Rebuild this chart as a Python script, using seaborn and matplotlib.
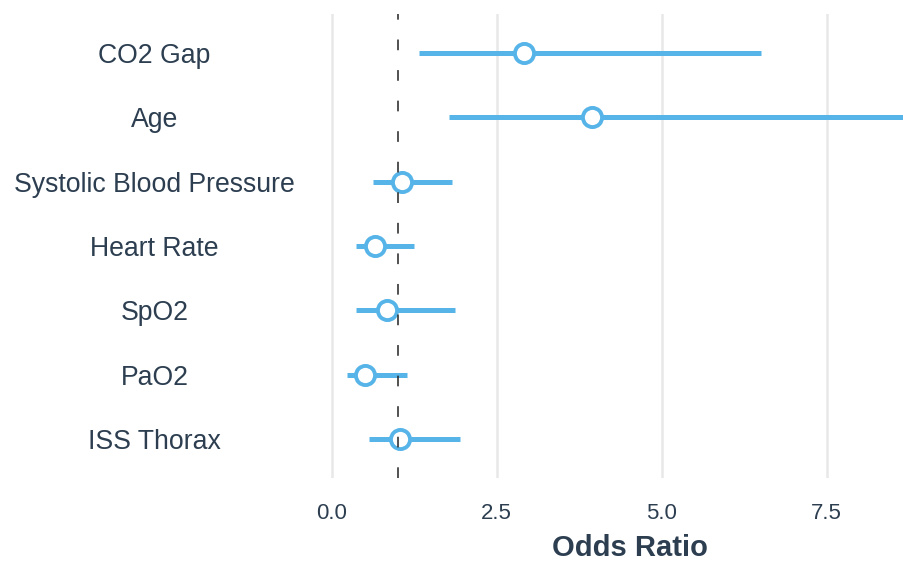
import numpy as np
import pandas as pd
import matplotlib
matplotlib.use("Agg")
import matplotlib.pyplot as plt
import seaborn as sns

# =============================================================================
# DATA
# =============================================================================
variables = ["CO2 Gap", "Age", "Systolic Blood Pressure", "Heart Rate",
             "SpO2", "PaO2", "ISS Thorax"]
odds_ratio = [2.91, 3.94, 1.07, 0.66, 0.83, 0.51, 1.04]
ci_lower = [1.32, 1.78, 0.63, 0.36, 0.37, 0.23, 0.57]
ci_upper = [6.50, 9.60, 1.82, 1.24, 1.87, 1.14, 1.94]  # Age upper runs off the panel
x_ticks = [0.0, 2.5, 5.0, 7.5]

df = pd.DataFrame({"variable": variables, "OR": odds_ratio,
                   "lower": ci_lower, "upper": ci_upper})
df["pos"] = np.arange(len(df))

# =============================================================================
# STYLE
# =============================================================================
sns.set_style("white")
plt.rcParams["font.family"] = ["Liberation Sans", "DejaVu Sans"]

blue = "#56B4E9"
text_col = "#2c3e50"

fig = plt.figure(figsize=(9.04, 5.62), dpi=100)
ax = fig.add_axes([310 / 904, 1 - 477.6 / 562, 1 - 310 / 904, (477.6 - 14.4) / 562])

# vertical grid lines
for xt in x_ticks:
    ax.axvline(xt, color="#e8e8e8", linewidth=1.8, zorder=0)

# confidence intervals
ax.hlines(df["pos"], df["lower"], df["upper"], color=blue, linewidth=3.6, zorder=2)

# point estimates
sns.scatterplot(data=df, x="OR", y="pos", ax=ax, s=190, color="white",
                edgecolor=blue, linewidth=2.8, zorder=3, legend=False)

# reference line at OR = 1
ax.axvline(1.0, color="#222222", linewidth=1.1, linestyle=(0, (7, 13)), zorder=4)

ax.set_xlim(-0.33, 8.67)
ax.set_ylim(len(df) - 0.4, -0.6)
ax.set_xticks(x_ticks)
ax.set_xticklabels([f"{t:.1f}" for t in x_ticks], fontsize=16, color=text_col)
ax.set_yticks(df["pos"])
ax.set_yticklabels(df["variable"], fontsize=19.2, color=text_col)
ax.tick_params(axis="x", length=0, pad=18)
ax.tick_params(axis="y", length=0, pad=112)
for lab in ax.get_yticklabels():
    lab.set_horizontalalignment("center")

ax.set_ylabel("")
ax.set_xlabel("Odds Ratio", fontsize=21, fontweight="bold", color=text_col)
ax.xaxis.set_label_coords((630 - 310) / 594, -0.122)

sns.despine(ax=ax, left=True, bottom=True)

plt.savefig("out.png", dpi=100)
plt.close()
